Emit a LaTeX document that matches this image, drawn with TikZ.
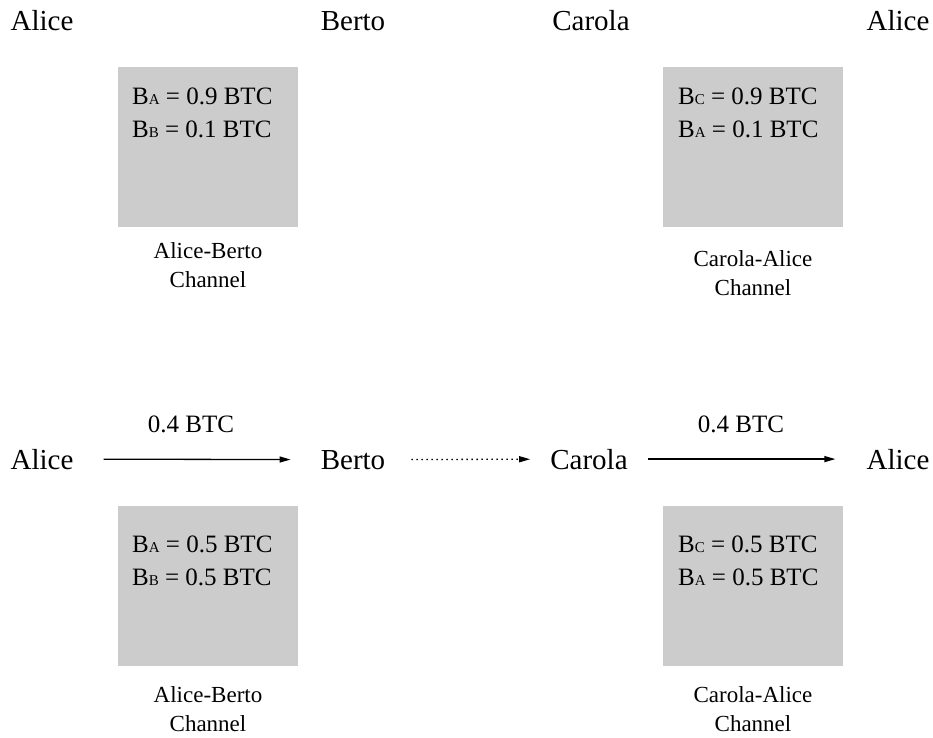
\documentclass[tikz,border=0pt]{standalone}
\usepackage{fontspec}
\setmainfont{Liberation Serif}
\usetikzlibrary{arrows.meta}

\definecolor{changray}{HTML}{CCCCCC}
\newcommand{\bal}[1]{B{\fontsize{15}{15}\selectfont #1}}

\begin{document}
\begin{tikzpicture}[x=1pt, y=-1pt,
    party/.style={inner sep=0pt, anchor=base, font=\fontsize{29}{34}\selectfont},
    chan/.style={fill=changray, minimum width=180pt, minimum height=160pt, inner sep=0pt},
    funds/.style={inner sep=0pt, anchor=north west, align=left, font=\fontsize{25}{33}\selectfont},
    chname/.style={inner sep=0pt, anchor=north, align=center, font=\fontsize{23}{29}\selectfont},
    amount/.style={inner sep=0pt, anchor=base, font=\fontsize{25}{30}\selectfont},
    pay/.style={-{Triangle[length=11pt,width=6pt]}, line width=1.3pt}]

        \useasboundingbox (0,0) rectangle (933,737);

        % before the payment
        \node[party]         (a1) at (42, 30)           {Alice};
        \node[party]         (b1) at (353, 30)          {Berto};
        \node[party]         (c1) at (591, 30)          {Carola};
        \node[party]         (a2) at (898, 30)          {Alice};

        \node[chan]          (abtop) at (208, 147)      {};
        \node[chan]          (catop) at (753, 147)      {};

        \node[funds]         (abtopf) at (132, 88)      {\bal{A} = 0.9 BTC\\ \bal{B} = 0.1 BTC};
        \node[funds]         (catopf) at (678, 88)      {\bal{C} = 0.9 BTC\\ \bal{A} = 0.1 BTC};

        \node[chname]        (abtopn) at (208, 242)     {Alice-Berto\\ Channel};
        \node[chname]        (catopn) at (753, 250)     {Carola-Alice\\ Channel};

        % after the payment
        \node[party]         (a3) at (42, 469)          {Alice};
        \node[party]         (b3) at (353, 469)         {Berto};
        \node[party]         (c3) at (589, 469)         {Carola};
        \node[party]         (a4) at (898, 469)         {Alice};

        \node[amount]        (abamt) at (191, 432)      {0.4 BTC};
        \node[amount]        (caamt) at (741, 432)      {0.4 BTC};

        \draw (a3) edge[pay, shorten <=30pt, shorten >=30pt]  (b3);
        \draw (b3) edge[pay, dash pattern=on 1.5pt off 3.5pt, shorten <=26pt, shorten >=20pt]  (c3);
        \draw (c3) edge[pay, shorten <=20pt, shorten >=31pt]  (a4);

        \node[chan]          (abbot) at (208, 586)      {};
        \node[chan]          (cabot) at (753, 586)      {};

        \node[funds]         (abbotf) at (132, 536)     {\bal{A} = 0.5 BTC\\ \bal{B} = 0.5 BTC};
        \node[funds]         (cabotf) at (678, 536)     {\bal{C} = 0.5 BTC\\ \bal{A} = 0.5 BTC};

        \node[chname]        (abbotn) at (208, 686)     {Alice-Berto\\ Channel};
        \node[chname]        (cabotn) at (753, 686)     {Carola-Alice\\ Channel};
      \end{tikzpicture}
\end{document}
